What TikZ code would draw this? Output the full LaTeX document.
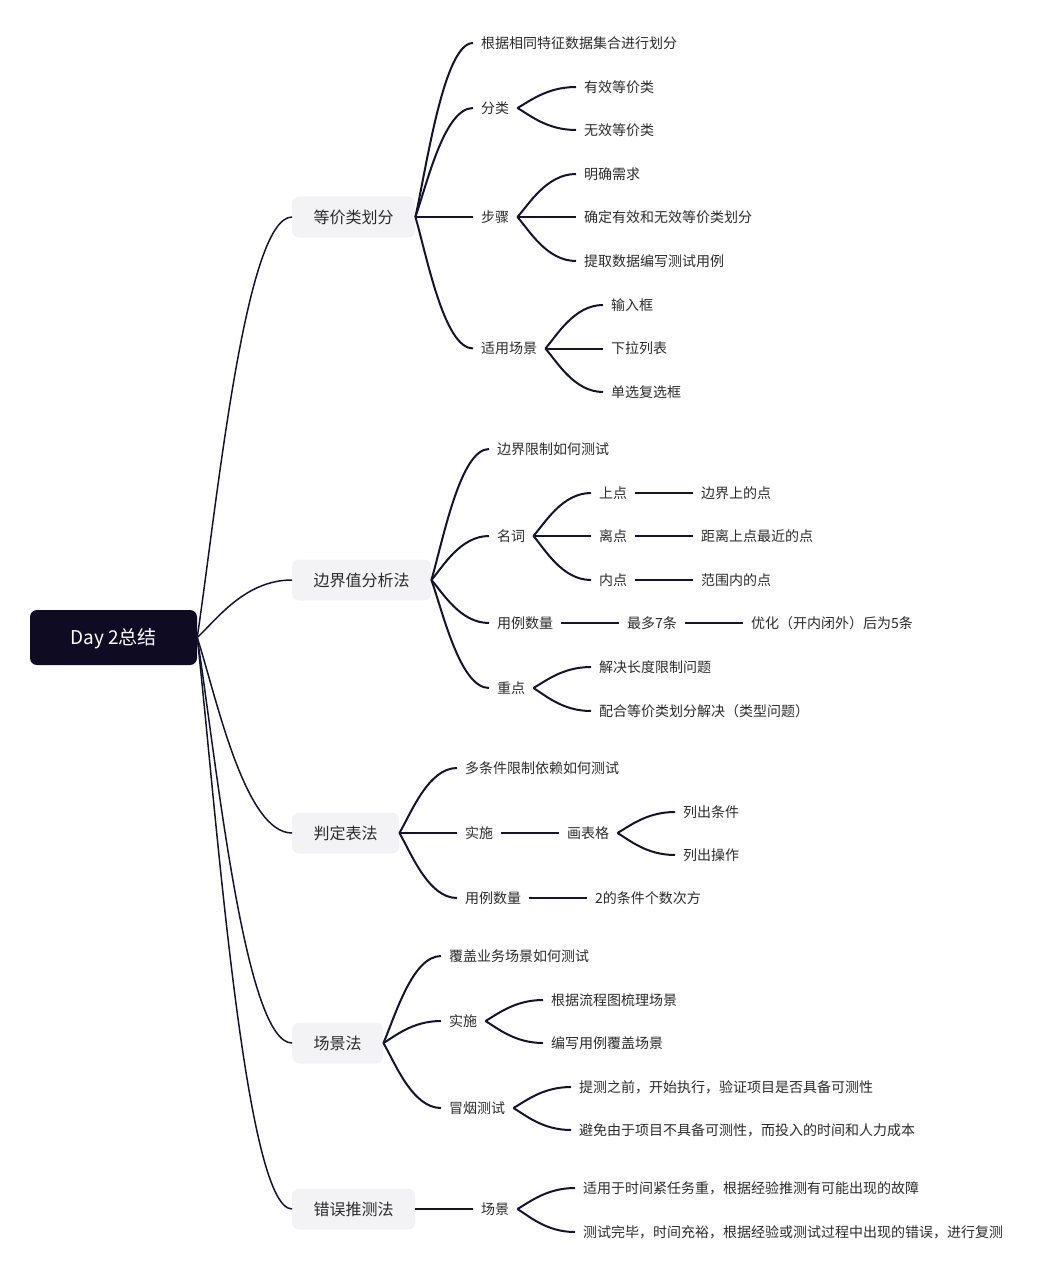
\documentclass[tikz,border=0pt]{standalone}
\usepackage{fontspec}
\setmainfont{Noto Sans CJK SC}
\usetikzlibrary{calc}
\definecolor{linkc}{HTML}{16142C}
\definecolor{rootc}{HTML}{0E0B22}
\definecolor{boxc}{HTML}{F3F3F5}
\definecolor{txtc}{HTML}{2B2B2B}
\tikzset{
  leaf/.style={anchor=west, inner xsep=8pt, inner ysep=0pt, text height=12.3pt, text depth=1.7pt, font=\fontsize{14}{16}\selectfont, text=txtc},
  topic/.style={anchor=west, fill=boxc, rounded corners=7pt, inner xsep=21.5pt, inner ysep=0pt, minimum height=41pt, text height=14.1pt, text depth=1.9pt, font=\fontsize{16}{18}\selectfont, text=txtc},
  rootbox/.style={fill=rootc, rounded corners=7pt, minimum width=167pt, minimum height=55pt, inner sep=0pt, text height=16.7pt, text depth=2.3pt, text=white, font=\fontsize{19}{21}\selectfont},
  link/.style={draw=linkc, line width=2pt},
  mainlink/.style={draw=linkc, line width=1.5pt},
}
\newcommand\mmlink[3][link]{\draw[#1] let \p1=(#2), \p2=(#3) in (\p1) .. controls ({\x1+0.2*(\x2-\x1)},{\y1+0.3*(\y2-\y1)}) and ({\x1+0.5*(\x2-\x1)},{\y2}) .. (\p2);}
\newcommand\mmline[2]{\draw[link] (#1.east) -- (#2.west);}
\begin{document}
\begin{tikzpicture}[x=1pt,y=-1pt]
\useasboundingbox (0,0) rectangle (1042,1276);
% root and topics
\node[rootbox] (root) at (113.5,637.5) {Day 2总结};
\node[topic] (A) at (292,217) {等价类划分};
\node[topic] (B) at (292,580) {边界值分析法};
\node[topic] (C) at (292,833) {判定表法};
\node[topic] (D) at (292,1043) {场景法};
\node[topic] (E) at (292,1209) {错误推测法};
% A
\node[leaf] (A1) at (473,43) {根据相同特征数据集合进行划分};
\node[leaf] (A2) at (473,108) {分类};
\node[leaf] (A3) at (473,217) {步骤};
\node[leaf] (A4) at (473,348.5) {适用场景};
\node[leaf] (A2a) at (576,87) {有效等价类};
\node[leaf] (A2b) at (576,130) {无效等价类};
\node[leaf] (A3a) at (576,174) {明确需求};
\node[leaf] (A3b) at (576,217) {确定有效和无效等价类划分};
\node[leaf] (A3c) at (576,261) {提取数据编写测试用例};
\node[leaf] (A4a) at (603,305) {输入框};
\node[leaf] (A4b) at (603,348.5) {下拉列表};
\node[leaf] (A4c) at (603,392) {单选复选框};
% B
\node[leaf] (B1) at (489,449) {边界限制如何测试};
\node[leaf] (B2) at (489,536) {名词};
\node[leaf] (B3) at (489,623) {用例数量};
\node[leaf] (B4) at (489,688) {重点};
\node[leaf] (B2a) at (591,493) {上点};
\node[leaf] (B2a1) at (693,493) {边界上的点};
\node[leaf] (B2b) at (591,536) {离点};
\node[leaf] (B2b1) at (693,536) {距离上点最近的点};
\node[leaf] (B2c) at (591,580) {内点};
\node[leaf] (B2c1) at (693,580) {范围内的点};
\node[leaf] (B3a) at (619,623) {最多7条};
\node[leaf] (B3b) at (743,623) {优化（开内闭外）后为5条};
\node[leaf] (B4a) at (591,667) {解决长度限制问题};
\node[leaf] (B4b) at (591,711) {配合等价类划分解决（类型问题）};
% C
\node[leaf] (C1) at (457,768) {多条件限制依赖如何测试};
\node[leaf] (C2) at (457,833) {实施};
\node[leaf] (C2a) at (559,833) {画表格};
\node[leaf] (C2a1) at (675,812) {列出条件};
\node[leaf] (C2a2) at (675,855) {列出操作};
\node[leaf] (C3) at (457,898) {用例数量};
\node[leaf] (C3a) at (587,898) {2的条件个数次方};
% D
\node[leaf] (D1) at (441,956) {覆盖业务场景如何测试};
\node[leaf] (D2) at (441,1021) {实施};
\node[leaf] (D2a) at (543,1000) {根据流程图梳理场景};
\node[leaf] (D2b) at (543,1043) {编写用例覆盖场景};
\node[leaf] (D3) at (441,1108) {冒烟测试};
\node[leaf] (D3a) at (571,1087) {提测之前，开始执行，验证项目是否具备可测性};
\node[leaf] (D3b) at (571,1130) {避免由于项目不具备可测性，而投入的时间和人力成本};
% E
\node[leaf] (E1) at (473,1209) {场景};
\node[leaf] (E1a) at (575,1188) {适用于时间紧任务重，根据经验推测有可能出现的故障};
\node[leaf] (E1b) at (575,1232) {测试完毕，时间充裕，根据经验或测试过程中出现的错误，进行复测};
% main links
\mmlink[mainlink]{root.east}{A.west}
\mmlink[mainlink]{root.east}{B.west}
\mmlink[mainlink]{root.east}{C.west}
\mmlink[mainlink]{root.east}{D.west}
\mmlink[mainlink]{root.east}{E.west}
% A links
\mmlink{A.east}{A1.west}
\mmlink{A.east}{A2.west}
\mmline{A}{A3}
\mmlink{A.east}{A4.west}
\mmlink{A2.east}{A2a.west}
\mmlink{A2.east}{A2b.west}
\mmlink{A3.east}{A3a.west}
\mmline{A3}{A3b}
\mmlink{A3.east}{A3c.west}
\mmlink{A4.east}{A4a.west}
\mmline{A4}{A4b}
\mmlink{A4.east}{A4c.west}
% B links
\mmlink{B.east}{B1.west}
\mmlink{B.east}{B2.west}
\mmlink{B.east}{B3.west}
\mmlink{B.east}{B4.west}
\mmlink{B2.east}{B2a.west}
\mmline{B2}{B2b}
\mmlink{B2.east}{B2c.west}
\mmline{B2a}{B2a1}
\mmline{B2b}{B2b1}
\mmline{B2c}{B2c1}
\mmline{B3}{B3a}
\mmline{B3a}{B3b}
\mmlink{B4.east}{B4a.west}
\mmlink{B4.east}{B4b.west}
% C links
\mmlink{C.east}{C1.west}
\mmline{C}{C2}
\mmlink{C.east}{C3.west}
\mmline{C2}{C2a}
\mmlink{C2a.east}{C2a1.west}
\mmlink{C2a.east}{C2a2.west}
\mmline{C3}{C3a}
% D links
\mmlink{D.east}{D1.west}
\mmlink{D.east}{D2.west}
\mmlink{D.east}{D3.west}
\mmlink{D2.east}{D2a.west}
\mmlink{D2.east}{D2b.west}
\mmlink{D3.east}{D3a.west}
\mmlink{D3.east}{D3b.west}
% E links
\mmline{E}{E1}
\mmlink{E1.east}{E1a.west}
\mmlink{E1.east}{E1b.west}
\end{tikzpicture}
\end{document}
